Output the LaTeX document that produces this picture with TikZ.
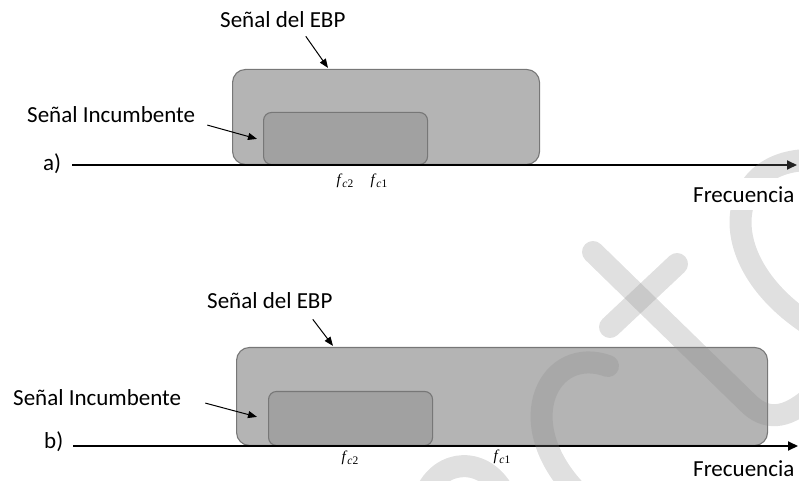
\documentclass[tikz,border=0pt]{standalone}
\usepackage{fontspec}
\setmainfont{Carlito}
\newfontfamily\fcfont{Liberation Serif}
\newcommand{\fcsym}[1]{{\itshape f}\kern1.5pt\raisebox{-3pt}{\fontsize{11.5}{13}\selectfont\itshape c\upshape #1}}
\usepackage{tikz}
\usetikzlibrary{arrows.meta,positioning,calc}
\definecolor{ebpgray}{HTML}{B4B4B4}
\definecolor{incgray}{HTML}{A1A1A1}
\definecolor{edgegray}{HTML}{777777}
\definecolor{wmgray}{HTML}{878787}
\tikzset{
  ebpbox/.style={
    rounded corners=13pt,
    draw=edgegray,
    fill=ebpgray,
    line width=1.1pt,
    inner sep=0pt,
    anchor=south west
  },
  incbox/.style={
    rounded corners=8pt,
    draw=edgegray,
    fill=incgray,
    line width=1.1pt,
    inner sep=0pt,
    anchor=south west
  },
  lbl/.style={
    fill=white,
    inner xsep=10pt,
    inner ysep=8pt,
    anchor=base west,
    font=\fontsize{23}{27}\selectfont
  },
  fclbl/.style={
    inner sep=0pt,
    font=\fcfont\fontsize{15}{17}\selectfont
  },
  callout/.style={
    -{Triangle[length=9pt,width=7pt]},
    line width=1pt,
    draw=black
  },
  axis/.style={
    -{Triangle[length=10pt,width=9pt]},
    line width=1.8pt,
    draw=black
  },
  wmark/.style={
    line width=22pt,
    draw=wmgray,
    opacity=0.26,
    line cap=round
  }
}

\begin{document}
\begin{tikzpicture}[x=1pt,y=-1pt]
\useasboundingbox (0,0) rectangle (799,481);

% a) signals
\node[ebpbox, minimum width=307pt, minimum height=95pt] (ebpA) at (232,165) {};
\node[incbox, minimum width=164pt, minimum height=52pt] (incA) at (263,165) {};
% b) signals
\node[ebpbox, minimum width=531pt, minimum height=98pt] (ebpB) at (236,446) {};
\node[incbox, minimum width=164pt, minimum height=54pt] (incB) at (268,446) {};

% frequency axes
\coordinate (axA) at (72,165);
\coordinate (endA) at (797,165);
\coordinate (axB) at (73,446);
\coordinate (endB) at (798,446);
\draw[axis] (axA) -- (endA);
\draw[axis] (axB) -- (endB);

% background mark
\begin{scope}
\clip (0,0) rectangle (799,481);
\draw[wmark] (810,160) .. controls (725,160) and (710,260) .. (810,325);
\draw[wmark] (593,252) -- (748,403) .. controls (765,420) and (785,420) .. (810,398);
\draw[wmark] (677,264) -- (610,327);
\draw[wmark] (608,366) .. controls (550,345) and (510,420) .. (575,490);
\draw[wmark] (425,495) .. controls (440,458) and (485,455) .. (505,495);
\end{scope}

% labels
\node[lbl] (ebpTxtA) at (210,28) {Señal del EBP};
\node[lbl] (incTxtA) at (17,123) {Señal Incumbente};
\node[lbl] (partA) at (33,171) {a)};
\node[lbl] (freqA) at (683,202) {Frecuencia};
\node[fclbl] (fc2A) at (345,181) {\fcsym{2}};
\node[fclbl] (fc1A) at (379,181) {\fcsym{1}};

\node[lbl] (ebpTxtB) at (197,308) {Señal del EBP};
\node[lbl] (incTxtB) at (3,405) {Señal Incumbente};
\node[lbl] (partB) at (34,448) {b)};
\node[lbl] (freqB) at (683,476) {Frecuencia};
\node[fclbl] (fc2B) at (350,458) {\fcsym{2}};
\node[fclbl] (fc1B) at (502,457) {\fcsym{1}};

% callouts
\draw[callout] ([xshift=23pt]ebpTxtA.south) -- ([xshift=96pt,yshift=1pt]ebpA.north west);
\draw[callout] ([xshift=2pt,yshift=-10pt]incTxtA.east) -- ([xshift=-6pt,yshift=-27pt]incA.north west);
\draw[callout] ([xshift=43pt,yshift=-3pt]ebpTxtB.south) -- ([xshift=97pt,yshift=1pt]ebpB.north west);
\draw[callout] ([xshift=14pt,yshift=-6pt]incTxtB.east) -- ([xshift=-11pt,yshift=-26pt]incB.north west);
\end{tikzpicture}
\end{document}
